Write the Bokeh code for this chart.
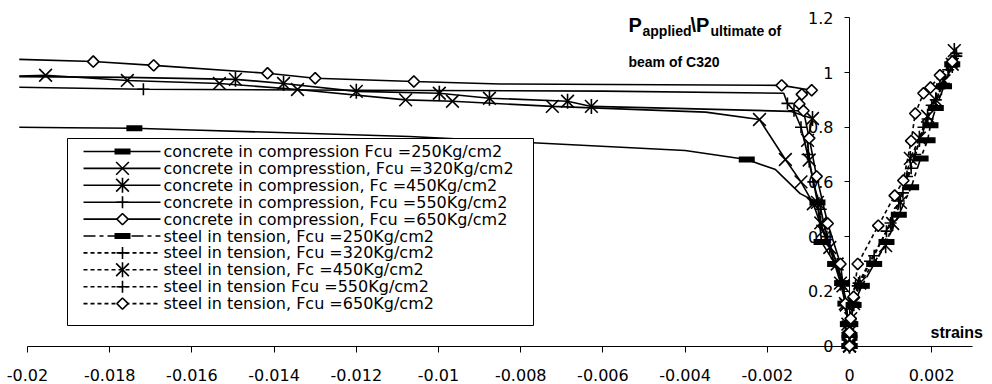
import math
from bokeh.plotting import figure
from bokeh.models import LinearAxis, FixedTicker
from bokeh.core.properties import value
from bokeh.embed import file_html
from bokeh.resources import INLINE

# ---------------- data ----------------
x_ticks = [-0.02, -0.018, -0.016, -0.014, -0.012, -0.01, -0.008, -0.006, -0.004, -0.002, 0.0, 0.002]
x_tick_labels = ["-0.02", "-0.018", "-0.016", "-0.014", "-0.012", "-0.01", "-0.008", "-0.006",
                 "-0.004", "-0.002", "0", "0.002"]
y_ticks = [0.0, 0.2, 0.4, 0.6, 0.8, 1.0, 1.2]
y_tick_labels = ["0", "0.2", "0.4", "0.6", "0.8", "1", "1.2"]

series_labels = [
    "concrete in compression Fcu  =250Kg/cm2",
    "concrete in compresstion, Fcu  =320Kg/cm2",
    "concrete in compression, Fc  =450Kg/cm2",
    "concrete in compression, Fcu  =550Kg/cm2",
    "concrete in compression, Fcu  =650Kg/cm2",
    "steel in tension, Fcu  =250Kg/cm2",
    " steel in tension, Fcu  =320Kg/cm2",
    " steel in tension, Fc  =450Kg/cm2",
    " steel in tension Fcu  =550Kg/cm2",
    "steel in tension, Fcu  =650Kg/cm2",
]

# concrete in compression (negative strains)
c250_x = [-0.0202, -0.0190, -0.0174, -0.0160, -0.0107, -0.0040, -0.0025, -0.0018, -0.0012, -0.00078,
          -0.00068, -0.00035, -0.00018, -0.0001, -0.00004, 0.0, 0.0]
c250_y = [0.800, 0.798, 0.796, 0.790, 0.766, 0.715, 0.682, 0.645, 0.557, 0.525,
          0.38, 0.30, 0.23, 0.155, 0.08, 0.03, 0.0]
c250_m = [0, 0, 1, 0, 0, 0, 1, 0, 0, 1, 1, 1, 1, 1, 1, 1, 1]

c320_x = [-0.0202, -0.01956, -0.01757, -0.01533, -0.01343, -0.0108, -0.00966, -0.00723, -0.0035,
          -0.00219, -0.00156, -0.00118, -0.00088, -0.00065, -0.0003, -0.00016, -0.00008, -0.00003, 0.0, 0.0]
c320_y = [0.987, 0.99, 0.971, 0.96, 0.938, 0.90, 0.895, 0.876, 0.855,
          0.828, 0.682, 0.60, 0.52, 0.42, 0.30, 0.22, 0.15, 0.07, 0.03, 0.0]
c320_m = [0, 1, 1, 1, 1, 1, 1, 1, 0, 1, 1, 1, 1, 1, 1, 1, 1, 1, 1, 1]

c450_x = [-0.0202, -0.0176, -0.01494, -0.01377, -0.0120, -0.00998, -0.00876, -0.00686, -0.00628,
          -0.0040, -0.00144, -0.0009, -0.00102, -0.00098, -0.00078, -0.0007, -0.00048, -0.00022,
          -0.0001, -0.00004, 0.0, 0.0]
c450_y = [0.985, 0.982, 0.975, 0.96, 0.931, 0.924, 0.906, 0.895, 0.876,
          0.868, 0.858, 0.832, 0.752, 0.68, 0.525, 0.45, 0.36, 0.23,
          0.155, 0.08, 0.03, 0.0]
c450_m = [0, 0, 1, 1, 1, 1, 1, 1, 1, 0, 0, 1, 1, 1, 1, 1, 1, 1, 1, 1, 1, 1]

c550_x = [-0.0202, -0.01718, -0.0120, -0.0060, -0.0016, -0.00151, -0.00135, -0.00118, -0.00102,
          -0.00088, -0.0007, -0.00055, -0.0003, -0.00015, -0.00008, -0.00003, 0.0, 0.0]
c550_y = [0.946, 0.939, 0.935, 0.932, 0.924, 0.887, 0.86, 0.80, 0.70,
          0.60, 0.50, 0.40, 0.30, 0.22, 0.15, 0.08, 0.03, 0.0]
c550_m = [0, 1, 0, 0, 0, 1, 1, 1, 1, 1, 1, 1, 1, 1, 1, 1, 1, 1]

c650_x = [-0.0202, -0.0184, -0.01693, -0.01416, -0.0130, -0.0106, -0.0085, -0.00165, -0.00092,
          -0.00116, -0.00122, -0.00112, -0.00098, -0.0008, -0.00053, -0.00022, -0.0001, -0.00004, 0.0, 0.0]
c650_y = [1.048, 1.04, 1.026, 0.997, 0.979, 0.967, 0.958, 0.953, 0.935,
          0.92, 0.885, 0.86, 0.76, 0.62, 0.448, 0.30, 0.155, 0.08, 0.03, 0.0]
c650_m = [0, 1, 1, 1, 1, 1, 0, 1, 1, 1, 1, 1, 1, 1, 1, 1, 1, 1, 1, 1]

# steel in tension (positive strains)
s250_x = [0.0, 0.0, 0.00002, 0.0001, 0.0003, 0.0006, 0.0009, 0.0012, 0.0015, 0.00173, 0.0019, 0.00197,
          0.0021, 0.0023, 0.0025]
s250_y = [0.0, 0.04, 0.08, 0.15, 0.22, 0.30, 0.38, 0.48, 0.58, 0.686, 0.752, 0.807, 0.87, 0.95, 1.03]

s320_x = [0.0, 0.0, 0.00003, 0.0001, 0.00022, 0.0005, 0.0009, 0.0012, 0.0014, 0.0016, 0.0018, 0.002,
          0.0022, 0.0024, 0.0026]
s320_y = [0.0, 0.05, 0.10, 0.16, 0.23, 0.31, 0.42, 0.53, 0.62, 0.70, 0.80, 0.88, 0.95, 1.01, 1.07]

s450_x = [0.0, 0.0, 0.00003, 0.0001, 0.00025, 0.00088, 0.00105, 0.00124, 0.00148, 0.0017, 0.0019, 0.0021,
          0.0023, 0.0025, 0.00255]
s450_y = [0.0, 0.05, 0.10, 0.155, 0.23, 0.367, 0.448, 0.525, 0.686, 0.76, 0.84, 0.90, 0.97, 1.03, 1.08]

s550_x = [0.0, 0.0, 0.00003, 0.0001, 0.0002, 0.0006, 0.001, 0.0013, 0.0015, 0.0017, 0.0019, 0.0021,
          0.0023, 0.0025, 0.0026]
s550_y = [0.0, 0.04, 0.09, 0.15, 0.22, 0.33, 0.45, 0.56, 0.65, 0.75, 0.83, 0.90, 0.96, 1.02, 1.06]

s650_x = [0.0, 0.0, 0.00003, 0.0001, 0.0002, 0.0007, 0.0011, 0.00131, 0.0015, 0.0016, 0.0018, 0.00197,
          0.0022, 0.0025]
s650_y = [0.0, 0.05, 0.10, 0.18, 0.30, 0.44, 0.55, 0.605, 0.75, 0.85, 0.924, 0.945, 0.99, 1.04]

# ---------------- figure (frame covers the whole canvas) ----------------
W, H = 992, 384
PX_PER_X = 41100.0       # pixels per strain unit
PX_PER_Y = 273.5         # pixels per load-ratio unit
X_AT_M002 = 27.0         # pixel column of x = -0.02
Y_AT_0 = 345.5           # pixel row of y = 0
X0 = -0.02 - X_AT_M002 / PX_PER_X
X1 = X0 + W / PX_PER_X
Y1 = (Y_AT_0) / PX_PER_Y
Y0 = Y1 - H / PX_PER_Y

p = figure(width=W, height=H, x_range=(X0, X1), y_range=(Y0, Y1),
           x_axis_type=None, y_axis_type=None, toolbar_location=None,
           output_backend="svg", min_border=0, min_border_left=0, min_border_right=0,
           min_border_top=0, min_border_bottom=0)
p.outline_line_color = None
p.background_fill_color = "white"
p.border_fill_color = "white"

FONT = "DejaVu Sans"
BOLD = "Liberation Sans"

xaxis = LinearAxis(fixed_location=0, bounds=(-0.02, 0.003), ticker=FixedTicker(ticks=x_ticks))
xaxis.major_label_overrides = {t: l for t, l in zip(x_ticks, x_tick_labels)}
yaxis = LinearAxis(fixed_location=0, bounds=(0, 1.2), ticker=FixedTicker(ticks=y_ticks))
yaxis.major_label_overrides = {t: l for t, l in zip(y_ticks, y_tick_labels)}
for ax, tout, stand in ((xaxis, 6, 17), (yaxis, 5, 11)):
    ax.major_tick_out = tout
    ax.major_tick_in = 0
    ax.minor_tick_line_color = None
    ax.axis_line_color = "black"
    ax.major_tick_line_color = "black"
    ax.major_label_text_font = FONT
    ax.major_label_text_font_size = "16px"
    ax.major_label_text_color = "black"
    ax.major_label_standoff = stand
    ax.level = "underlay"
p.add_layout(xaxis, "below")
p.add_layout(yaxis, "left")


def wx(px):
    return X0 + px / PX_PER_X


def wy(py):
    return Y1 - py / PX_PER_Y


def sel(v, m):
    return [a for a, k in zip(v, m) if k]


LW = 1.6


def markers(x, y, kind):
    if kind == "rect":
        p.scatter(x, y, marker="dash", size=16, line_width=6, line_color="black")
    elif kind == "x":
        p.scatter(x, y, marker="x", size=18, line_width=1.6, line_color="black")
    elif kind == "star":
        p.scatter(x, y, marker="x", size=18, line_width=1.6, line_color="black")
        p.scatter(x, y, marker="dash", size=15, angle=math.pi / 2, line_width=1.6, line_color="black")
    elif kind == "plus":
        p.scatter(x, y, marker="cross", size=12, line_width=1.6, line_color="black")
    elif kind == "diamond":
        p.scatter(x, y, marker="square", size=8, angle=math.pi / 4, line_width=1.6,
                  line_color="black", fill_color="white")


concrete = [(c250_x, c250_y, c250_m, "rect"), (c320_x, c320_y, c320_m, "x"),
            (c450_x, c450_y, c450_m, "star"), (c550_x, c550_y, c550_m, "plus"),
            (c650_x, c650_y, c650_m, "diamond")]
steel = [(s250_x, s250_y, "rect", "12 4 4 4"), (s320_x, s320_y, "plus", "4 3"),
         (s450_x, s450_y, "star", "4 3"), (s550_x, s550_y, "plus", "4 3"),
         (s650_x, s650_y, "diamond", "4 3")]

for x, y, m, kind in concrete:
    p.line(x, y, line_color="black", line_width=LW)
    markers(sel(x, m), sel(y, m), kind)

for x, y, kind, dash in steel:
    p.line(x, y, line_color="black", line_width=LW, line_dash=dash)
    markers(x, y, kind)

# ---------------- legend (drawn by hand, pixel layout) ----------------
LG_L, LG_T, LG_R, LG_B = 67, 138, 533, 325
ROW0, PITCH = 151.0, 16.9
G0, G1, GM, TX = 83, 160, 122, 163

p.quad(left=[wx(LG_L)], right=[wx(LG_R)], top=[wy(LG_T)], bottom=[wy(LG_B)],
       fill_color="white", line_color="black", line_width=1)
kinds = [c[3] for c in concrete] + [s[2] for s in steel]
dashes = ["solid"] * 5 + [s[3] for s in steel]
for i, lab in enumerate(series_labels):
    ry = wy(ROW0 + i * PITCH)
    p.line([wx(G0), wx(G1)], [ry, ry], line_color="black", line_width=LW, line_dash=dashes[i])
    markers([wx(GM)], [ry], kinds[i])
    p.text(x=[wx(TX)], y=[ry], text=[lab], text_font=value(FONT), text_font_size="16px",
           text_baseline="middle", text_align="left", text_color="black")


# ---------------- axis titles ----------------
def lab(txt, px, py, size):
    p.text(x=[wx(px)], y=[wy(py)], text=[txt], text_font=value(BOLD), text_font_style="bold",
           text_font_size=size, text_color="black", text_baseline="alphabetic", text_align="left")


lab("P", 628, 24, "20px")
lab("applied", 642, 30, "14px")
lab("\\P", 690, 24, "20px")
lab("ultimate of", 710, 30, "14px")
lab("beam of C320", 628, 61, "14px")
lab("strains", 930, 332, "16px")

open("out.html", "w").write(file_html(p, INLINE))
